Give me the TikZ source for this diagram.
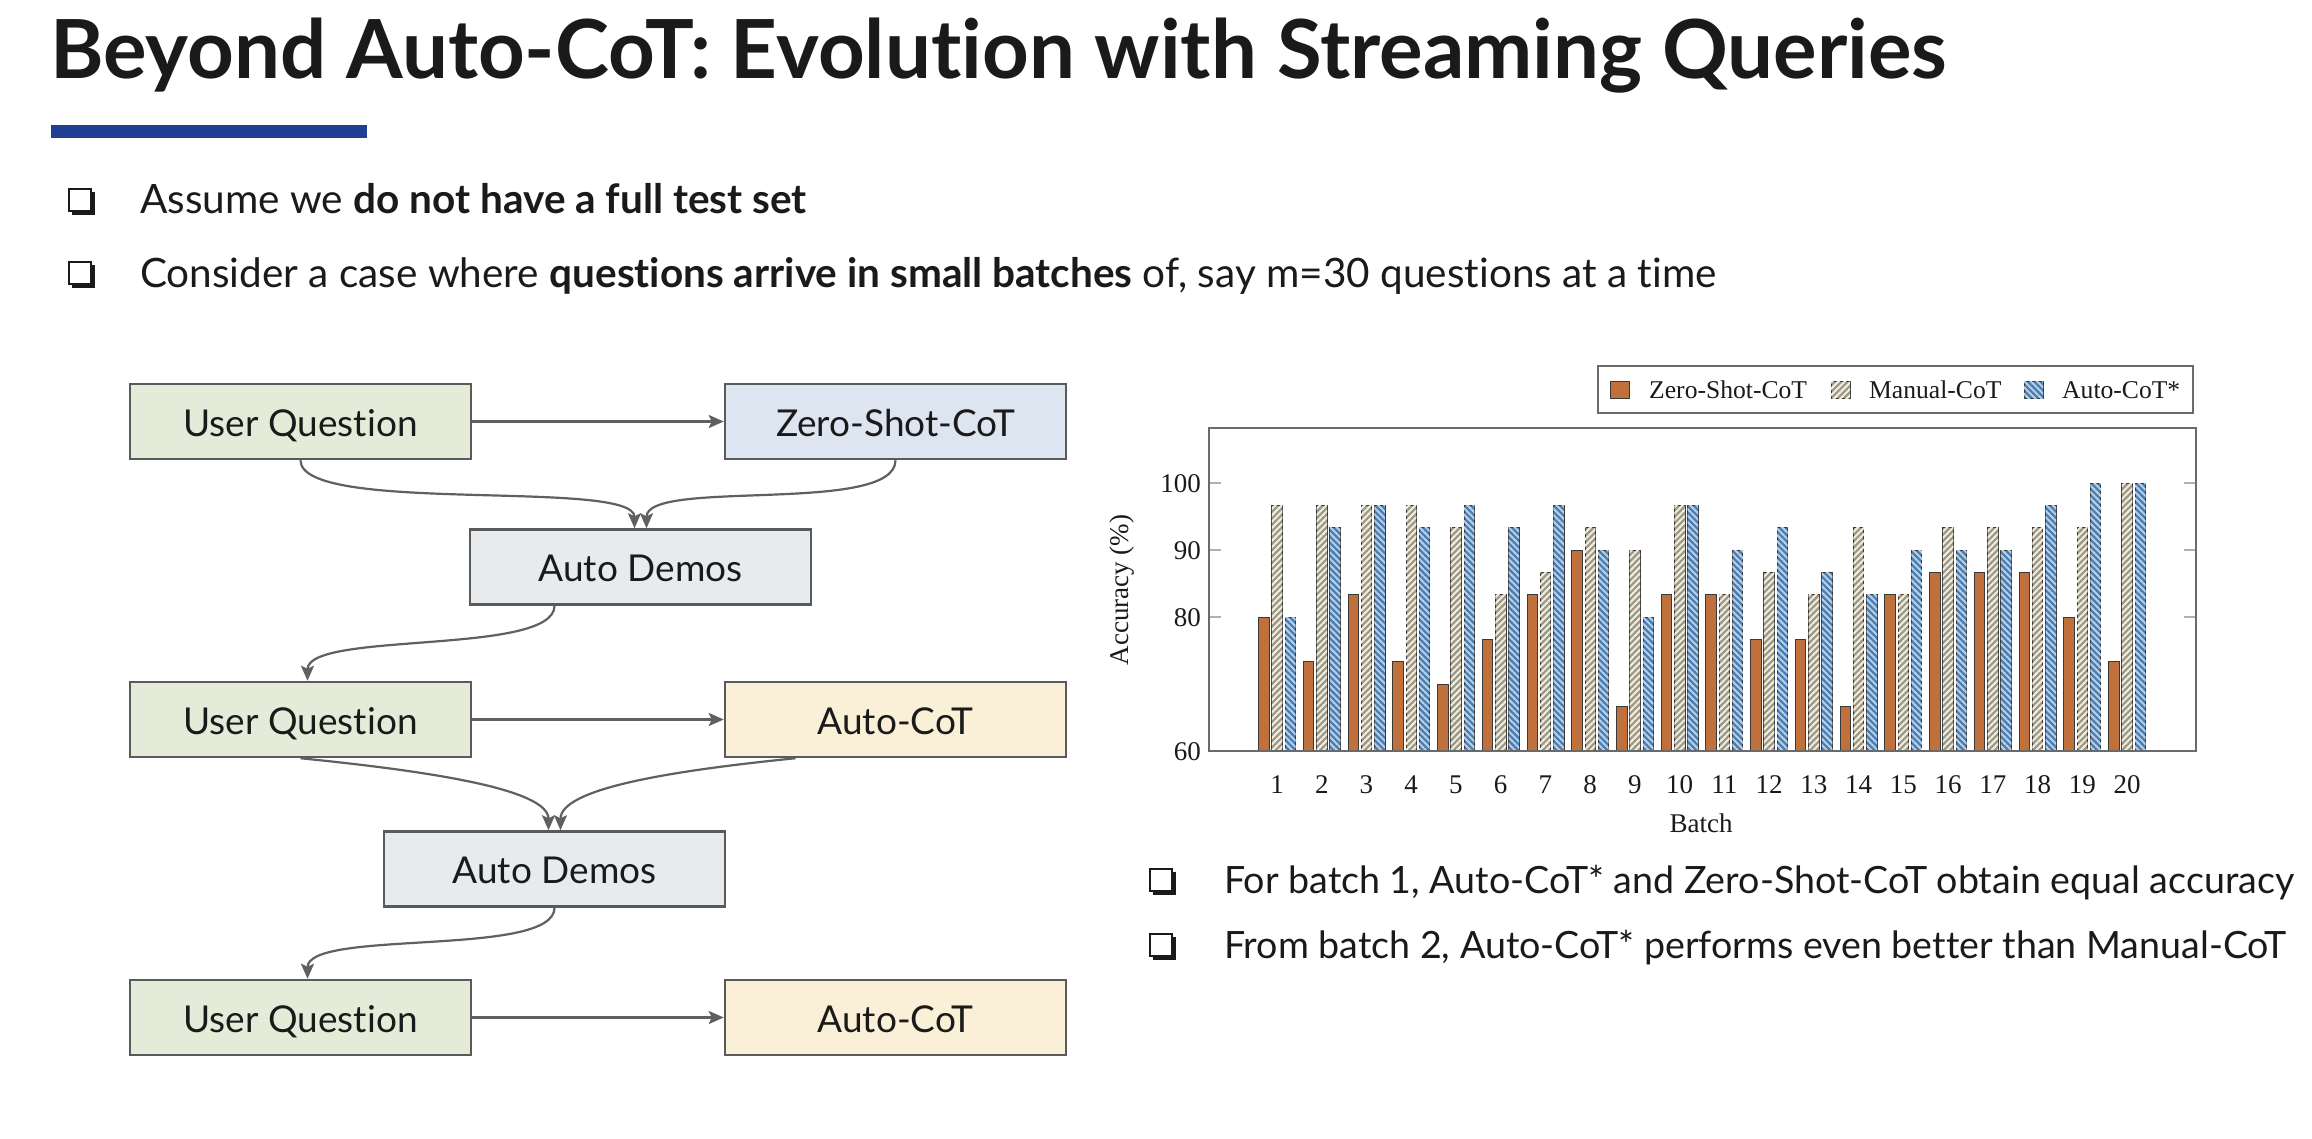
\documentclass[tikz,border=0pt]{standalone}
\usepackage{fontspec}
\setmainfont{Lato}[Ligatures=NoCommon]
\newfontfamily\plotfont{Liberation Serif}
\usetikzlibrary{arrows.meta,patterns.meta}

\definecolor{ink}{HTML}{1A1A1A}
\definecolor{rulebar}{HTML}{1F3E94}
\definecolor{boxline}{HTML}{5A5A5A}
\definecolor{flowline}{HTML}{606060}
\definecolor{uqfill}{HTML}{E4ECD9}
\definecolor{zsfill}{HTML}{DCE5F0}
\definecolor{adfill}{HTML}{E8EBED}
\definecolor{acfill}{HTML}{FAF0D7}
\definecolor{zsorange}{HTML}{C0703A}
\definecolor{mcbase}{HTML}{9C9888}
\definecolor{mcstripe}{HTML}{F3EEDD}
\definecolor{acbase}{HTML}{4A7DB0}
\definecolor{acstripe}{HTML}{B8D0EA}
\definecolor{barline}{HTML}{3A3A3A}
\definecolor{frameline}{HTML}{6A6A6A}
\definecolor{tickline}{HTML}{B0B0B0}

\begin{document}
\begin{tikzpicture}[x=1pt,y=1pt,
  every node/.style={text=ink, inner sep=0pt},
  toptext/.style={font=\fontsize{40.5}{48}\selectfont},
  sidetext/.style={font=\fontsize{37.6}{45}\selectfont},
  flowbox/.style={draw=boxline, line width=2.5pt, minimum width=341pt,
    minimum height=75pt, text height=29.5pt, text depth=0pt,
    font=\fontsize{37}{44}\selectfont},
  uqbox/.style={flowbox, fill=uqfill},
  zsbox/.style={flowbox, fill=zsfill},
  adbox/.style={flowbox, fill=adfill},
  acbox/.style={flowbox, fill=acfill},
  flow/.style={draw=flowline, line width=2.2pt,
    -{Stealth[length=15pt,width=13pt,inset=3pt]}},
  plottext/.style={font=\plotfont\fontsize{27}{32}\selectfont},
  legendtext/.style={font=\plotfont\fontsize{25.6}{30}\selectfont},
  zsbar/.style={draw=barline, line width=0.8pt, fill=zsorange},
  mcbar/.style={draw=barline, line width=0.8pt, fill=mcbase,
    postaction={pattern={Lines[angle=45,distance=4.5pt,line width=2pt]},
      pattern color=mcstripe}},
  acbar/.style={draw=barline, line width=0.8pt, fill=acbase,
    postaction={pattern={Lines[angle=-45,distance=4.5pt,line width=2pt]},
      pattern color=acstripe}},
  sqbullet/.pic={
    \draw[ink, line width=2.4pt] (-11,-11) rectangle (11,11);
    \fill[ink] (-8,-11) rectangle (15,-15);
    \fill[ink] (11,-15) rectangle (15,8);
  }
]
\path[use as bounding box, fill=white] (0,0) rectangle (2312,-1138);

% heading and accent bar
\node[anchor=base west, font=\fontsize{81.5}{96}\selectfont\bfseries] (title)
  at (50,-78) {Beyond Auto-CoT: Evolution with Streaming Queries};
\fill[rulebar] (51,-125) rectangle (367,-138);

% top bullet list
\pic at (80,-200) {sqbullet};
\node[toptext, anchor=base west] (b1) at (140,-213)
  {Assume we \textbf{do not have a full test set}};
\pic at (80,-273) {sqbullet};
\node[toptext, anchor=base west] (b2) at (140,-287)
  {Consider a case where \textbf{questions arrive in small batches} of, say m=30 questions at a time};

% flow of demos across batches
\node[uqbox] (uq1) at (300.5,-421.5) {User Question};
\node[zsbox] (zs)  at (895.5,-421.5) {Zero-Shot-CoT};
\node[adbox] (ad1) at (640.5,-567) {Auto Demos};
\node[uqbox] (uq2) at (300.5,-719.5) {User Question};
\node[acbox] (ac1) at (895.5,-719.5) {Auto-CoT};
\node[adbox] (ad2) at (554.5,-869) {Auto Demos};
\node[uqbox] (uq3) at (300.5,-1017.5) {User Question};
\node[acbox] (ac2) at (895.5,-1017.5) {Auto-CoT};

\draw[flow] (uq1) -- (zs);
\draw[flow] (uq1.south) .. controls +(0,-55) and +(0,50) .. ([xshift=-6pt]ad1.north);
\draw[flow] (zs.south) .. controls +(0,-55) and +(0,50) .. ([xshift=6pt]ad1.north);
\draw[flow] ([xshift=-86pt]ad1.south) .. controls +(0,-50) and +(0,50) .. ([xshift=7pt]uq2.north);
\draw[flow] (uq2) -- (ac1);
\draw[flow] (uq2.south) .. controls +(130,-13) and +(0,41) .. ([xshift=-6pt]ad2.north);
\draw[flow] ([xshift=-100pt]ac1.south) .. controls +(-130,-13) and +(0,41) .. ([xshift=6pt]ad2.north);
\draw[flow] (ad2.south) .. controls +(0,-50) and +(0,50) .. ([xshift=7pt]uq3.north);
\draw[flow] (uq3) -- (ac2);

% bar chart: accuracy per batch
\foreach \i/\a/\b/\c in {1/80/96.67/80, 2/73.33/96.67/93.33, 3/83.33/96.67/96.67,
    4/73.33/96.67/93.33, 5/70/93.33/96.67, 6/76.67/83.33/93.33, 7/83.33/86.67/96.67,
    8/90/93.33/90, 9/66.67/90/80, 10/83.33/96.67/96.67, 11/83.33/83.33/90,
    12/76.67/86.67/93.33, 13/76.67/83.33/86.67, 14/66.67/93.33/83.33,
    15/83.33/83.33/90, 16/86.67/93.33/90, 17/86.67/93.33/90, 18/86.67/93.33/96.67,
    19/80/93.33/100, 20/73.33/100/100} {
  \pgfmathsetmacro\cx{1277+(\i-1)*44.737}
  \draw[zsbar] ({\cx-18.5},-751) rectangle ({\cx-8},{-751+(\a-60)*6.7});
  \draw[mcbar] ({\cx-5.25},-751) rectangle ({\cx+5.25},{-751+(\b-60)*6.7});
  \draw[acbar] ({\cx+8},-751) rectangle ({\cx+18.5},{-751+(\c-60)*6.7});
  \node[plottext] (bx\i) at (\cx,-785) {\i};
}
\draw[frameline, line width=1.6pt] (1209,-428) rectangle (2196,-751);
\foreach \v in {80,90,100} {
  \draw[tickline, line width=1.4pt] (1210,{-751+(\v-60)*6.7}) -- ++(11,0);
  \draw[tickline, line width=1.4pt] (2195,{-751+(\v-60)*6.7}) -- ++(-11,0);
}
\foreach \v in {60,80,90,100} {
  \node[plottext, anchor=east] (yt\v) at (1201,{-752+(\v-60)*6.7}) {\v};
}
\node[plottext, rotate=90] (ylab) at (1122,-590) {Accuracy (\%)};
\node[plottext] (xlab) at (1701,-823) {Batch};

% legend
\node[draw=frameline, line width=1.4pt, minimum width=595pt, minimum height=47pt]
  (legend) at (1895.5,-389.5) {};
\draw[zsbar] (1610,-381) rectangle (1629,-398);
\node[legendtext, anchor=west] (lg1) at (1649,-390) {Zero-Shot-CoT};
\draw[mcbar] (1831,-381) rectangle (1850,-398);
\node[legendtext, anchor=west] (lg2) at (1869,-390) {Manual-CoT};
\draw[acbar] (2024,-381) rectangle (2043,-398);
\node[legendtext, anchor=west] (lg3) at (2062,-390) {Auto-CoT*};

% findings
\pic at (1161,-880) {sqbullet};
\node[sidetext, anchor=base west] (f1) at (1224,-893)
  {For batch 1, Auto-CoT* and Zero-Shot-CoT obtain equal accuracy};
\pic at (1161,-945) {sqbullet};
\node[sidetext, anchor=base west] (f2) at (1224,-958)
  {From batch 2, Auto-CoT* performs even better than Manual-CoT};
\end{tikzpicture}
\end{document}
